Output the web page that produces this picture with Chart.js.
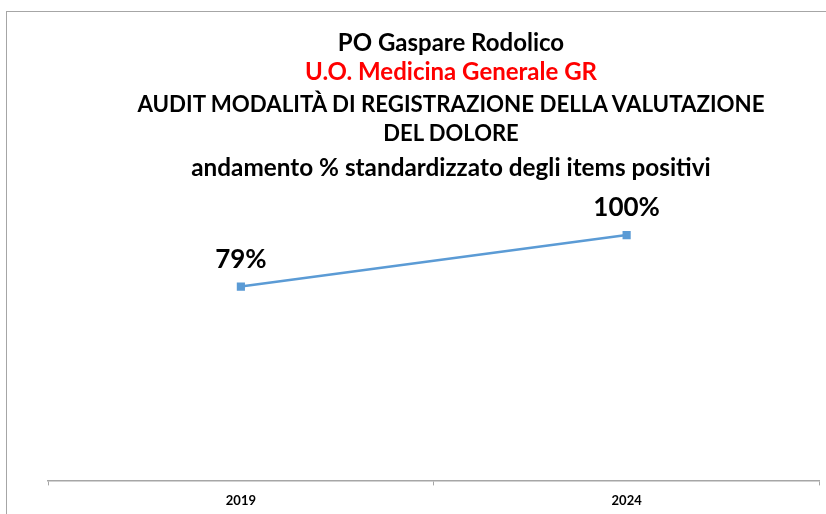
<!DOCTYPE html>
<html>
<head>
<meta charset="utf-8">
<script src="https://cdn.jsdelivr.net/npm/chart.js@4"></script>
<style>
  html, body { margin: 0; padding: 0; background: #fff; }
  #wrap { position: relative; width: 826px; height: 514px; overflow: hidden; }
  #frame {
    position: absolute; left: 6px; top: 11px; width: 840px; height: 520px;
    border-left: 1.5px solid #a6a6a6; border-top: 1.5px solid #a6a6a6;
  }
  canvas { position: absolute; left: 0; top: 0; }
  .t {
    position: absolute; left: 1px; width: 900px; text-align: center;
    font-family: Lato, "Open Sans", sans-serif; font-weight: bold; font-size: 22px;
    color: #000; white-space: nowrap; line-height: 1;
  }
</style>
</head>
<body>
<div id="wrap">
  <div id="frame"></div>
  <canvas id="lineChart" width="826" height="520"></canvas>
  <div class="t" style="top:30px;font-size:24px">PO Gaspare Rodolico</div>
  <div class="t" style="top:59px;font-size:24px;color:#ff0000">U.O. Medicina Generale GR</div>
  <div class="t" style="top:93px;font-size:22.3px">AUDIT MODALITÀ DI REGISTRAZIONE DELLA VALUTAZIONE</div>
  <div class="t" style="top:122px;font-size:22px">DEL DOLORE</div>
  <div class="t" style="top:155px;font-size:24.3px">andamento % standardizzato degli items positivi</div>
</div>
<script>
const years = ['2019', '2024'];
const percentages = [79, 100];

// draws the "79%" / "100%" labels above each point
const valueLabels = {
  id: 'valueLabels',
  afterDatasetsDraw(chart) {
    const ctx = chart.ctx;
    const meta = chart.getDatasetMeta(0);
    ctx.save();
    ctx.font = 'bold 26px Lato, "Open Sans", sans-serif';
    ctx.fillStyle = '#000';
    ctx.textAlign = 'center';
    ctx.textBaseline = 'middle';
    meta.data.forEach((pt, i) => {
      ctx.fillText(percentages[i] + '%', pt.x, pt.y - 27);
    });
    ctx.restore();
  }
};

const ctx = document.getElementById('lineChart').getContext('2d');
new Chart(ctx, {
  type: 'line',
  data: {
    labels: years,
    datasets: [{
      data: percentages,
      borderColor: '#5b9bd5',
      backgroundColor: '#5b9bd5',
      borderWidth: 2.5,
      pointStyle: 'rect',
      pointRadius: 4,
      tension: 0,
    }],
  },
  options: {
    responsive: false,
    animation: false,
    layout: { padding: { left: 48, right: 6, top: 186, bottom: 3 } },
    plugins: {
      legend: { display: false },
      tooltip: { enabled: false },
    },
    scales: {
      x: {
        offset: true,
        grid: {
          offset: true,
          drawOnChartArea: false,
          drawTicks: true,
          tickLength: 5,
          color: '#a6a6a6',
        },
        border: { color: '#a6a6a6', width: 1.5 },
        ticks: {
          padding: 8,
          color: '#000',
          font: { family: 'Lato, "Open Sans", sans-serif', size: 13, weight: 'bold' },
        },
      },
      y: {
        display: false,
        min: 0,
        max: 120,
      },
    },
  },
  plugins: [valueLabels],
});
</script>
</body>
</html>
